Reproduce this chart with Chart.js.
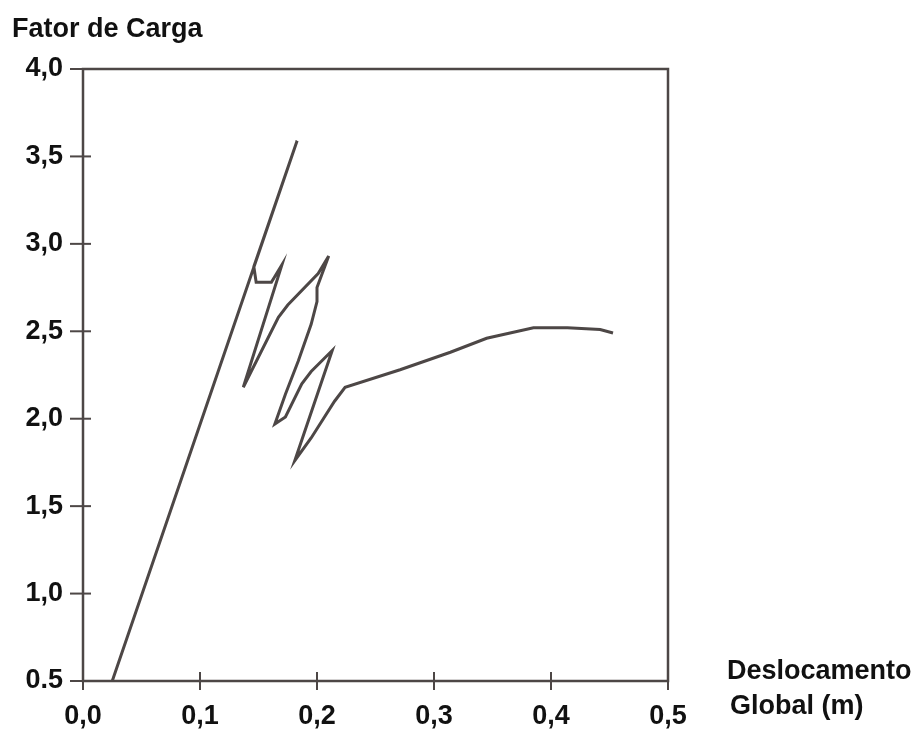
<!DOCTYPE html>
<html>
<head>
<meta charset="utf-8">
<script src="https://cdn.jsdelivr.net/npm/chart.js@4.4.1/dist/chart.umd.min.js"></script>
<style>
  html, body { margin: 0; padding: 0; background: #ffffff; }
  #wrap { width: 920px; height: 729px; }
</style>
</head>
<body>
<div id="wrap"><canvas id="c" width="920" height="729"></canvas></div>
<script>
// Load-displacement path (global displacement in m, load factor)
const displacement = [0.025, 0.183, 0.146, 0.148, 0.161, 0.170, 0.137, 0.167, 0.175, 0.201,
                      0.210, 0.200, 0.200, 0.195, 0.184, 0.173, 0.164, 0.173, 0.187, 0.195,
                      0.213, 0.181, 0.195, 0.215, 0.224, 0.271, 0.314, 0.345, 0.385, 0.414,
                      0.442, 0.453];
const loadFactor   = [0.50, 3.59, 2.87, 2.78, 2.78, 2.88, 2.18, 2.58, 2.65, 2.83,
                      2.93, 2.75, 2.67, 2.54, 2.33, 2.14, 1.97, 2.01, 2.20, 2.27,
                      2.39, 1.76, 1.89, 2.10, 2.18, 2.28, 2.38, 2.46, 2.52, 2.52,
                      2.51, 2.49];

const xTickLabels = ['0,0', '0,1', '0,2', '0,3', '0,4', '0,5'];
const yTickLabels = ['0.5', '1,0', '1,5', '2,0', '2,5', '3,0', '3,5', '4,0'];
const yAxisTitle = 'Fator de Carga';
const xAxisTitle = ['Deslocamento', 'Global (m)'];

const INK = '#4d4746';
const TEXT = '#111111';
const FONT = '"Liberation Sans", Arial, sans-serif';
const FONT_SIZE = 27;

const points = displacement.map((x, i) => ({ x: x, y: loadFactor[i] }));

// Box frame, crossing tick marks and the free-standing titles
const framePlugin = {
  id: 'frame',
  beforeDatasetsDraw(chart) {
    const { ctx, chartArea: a, scales } = chart;
    ctx.save();
    ctx.strokeStyle = INK;
    ctx.lineWidth = 2.5;
    ctx.lineCap = 'butt';
    ctx.strokeRect(a.left, a.top, a.right - a.left, a.bottom - a.top);

    ctx.lineWidth = 2;
    const ys = scales.y;
    ys.ticks.forEach((t, i) => {
      const py = ys.getPixelForTick(i);
      ctx.beginPath();
      ctx.moveTo(a.left - 13, py);
      ctx.lineTo(a.left + 8, py);
      ctx.stroke();
    });
    const xs = scales.x;
    xs.ticks.forEach((t, i) => {
      const px = xs.getPixelForTick(i);
      ctx.beginPath();
      ctx.moveTo(px, a.bottom - 9);
      ctx.lineTo(px, a.bottom + 9);
      ctx.stroke();
    });
    ctx.restore();
  },
  afterDraw(chart) {
    const { ctx, chartArea: a } = chart;
    ctx.save();
    ctx.fillStyle = TEXT;
    ctx.font = 'bold ' + FONT_SIZE + 'px ' + FONT;
    ctx.textAlign = 'left';
    ctx.textBaseline = 'alphabetic';
    ctx.fillText(yAxisTitle, 12, 37);
    ctx.fillText(xAxisTitle[0], a.right + 59, a.bottom - 2);
    ctx.fillText(xAxisTitle[1], a.right + 62, a.bottom + 33);
    ctx.restore();
  }
};

new Chart(document.getElementById('c'), {
  type: 'scatter',
  data: {
    datasets: [{
      data: points,
      showLine: true,
      borderColor: INK,
      borderWidth: 3,
      pointRadius: 0,
      tension: 0,
      fill: false
    }]
  },
  options: {
    responsive: false,
    animation: false,
    devicePixelRatio: 1,
    layout: { padding: { top: 69, right: 252, bottom: 0, left: 0 } },
    plugins: {
      legend: { display: false },
      tooltip: { enabled: false }
    },
    scales: {
      x: {
        type: 'linear',
        min: 0,
        max: 0.5,
        grid: { display: false, drawTicks: false },
        border: { display: false },
        ticks: {
          stepSize: 0.1,
          padding: 19,
          color: TEXT,
          font: { family: FONT, size: FONT_SIZE, weight: 'bold' },
          callback: (v, i) => xTickLabels[i]
        },
        afterFit(scale) { scale.height = 48; }
      },
      y: {
        type: 'linear',
        min: 0.5,
        max: 4.0,
        grid: { display: false, drawTicks: false },
        border: { display: false },
        ticks: {
          stepSize: 0.5,
          padding: 20,
          color: TEXT,
          font: { family: FONT, size: FONT_SIZE, weight: 'bold' },
          callback: (v, i) => yTickLabels[i]
        },
        afterFit(scale) { scale.width = 83; }
      }
    }
  },
  plugins: [framePlugin]
});
</script>
</body>
</html>
